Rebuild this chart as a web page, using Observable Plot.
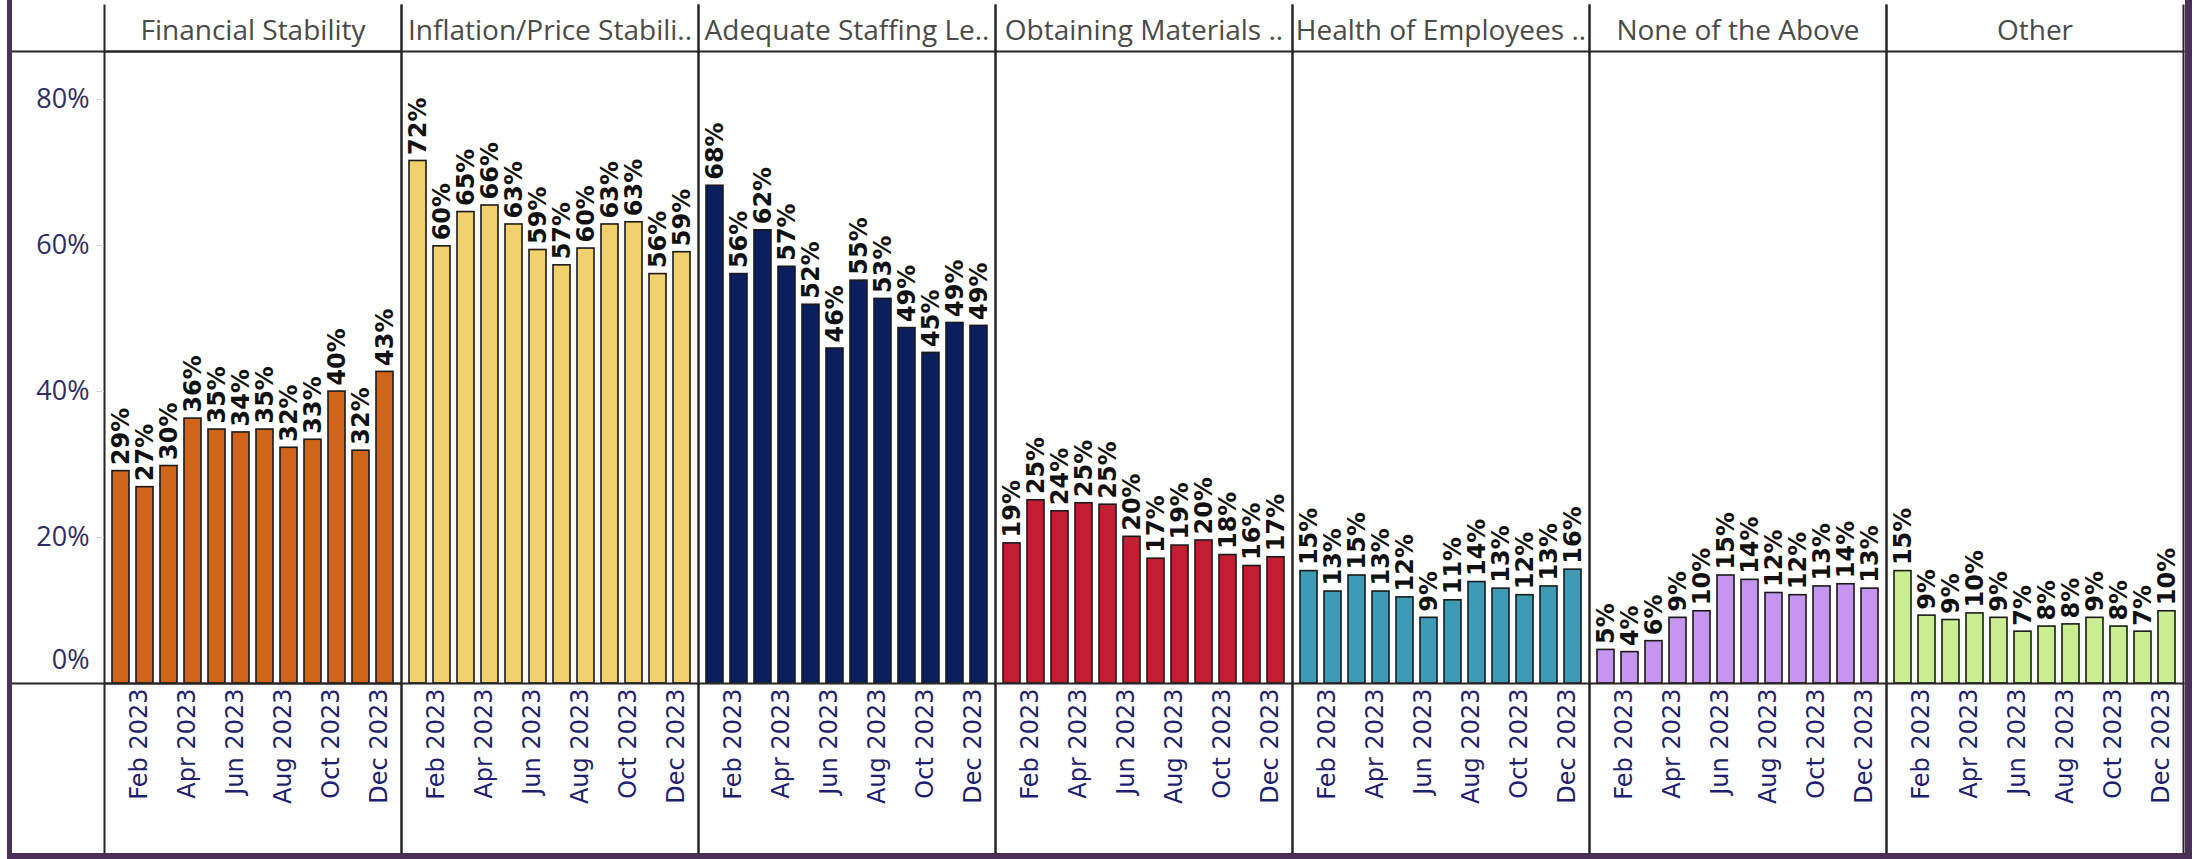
<!DOCTYPE html>
<html>
<head>
<meta charset="utf-8">
<script src="https://cdn.jsdelivr.net/npm/d3@7"></script>
<script src="https://cdn.jsdelivr.net/npm/@observablehq/plot@0.6"></script>
<style>
html,body{margin:0;padding:0;background:#fff;}
#wrap{position:absolute;left:7px;top:0;width:2173px;height:853px;border-left:5px solid #4a2f57;border-right:7px solid #4a2f57;border-bottom:6px solid #4a2f57;background:#fff;}
#wrap svg{display:block;}
</style>
</head>
<body>
<div id="wrap"></div>
<script>
const categories = [
  "Financial Stability",
  "Inflation/Price Stabili..",
  "Adequate Staffing Le..",
  "Obtaining Materials ..",
  "Health of Employees ..",
  "None of the Above",
  "Other"
];
const months = ["Jan 2023","Feb 2023","Mar 2023","Apr 2023","May 2023","Jun 2023",
                "Jul 2023","Aug 2023","Sep 2023","Oct 2023","Nov 2023","Dec 2023"];
const monthTicks = ["Feb 2023","Apr 2023","Jun 2023","Aug 2023","Oct 2023","Dec 2023"];
const yTicks = [20, 40, 60, 80];
const yMax = 86.6;

const financialStability = [29.1, 26.9, 29.8, 36.3, 34.8, 34.4, 34.8, 32.3, 33.4, 40.0, 31.9, 42.7];
const inflationPrice     = [71.6, 59.9, 64.6, 65.5, 62.9, 59.4, 57.3, 59.6, 62.9, 63.2, 56.1, 59.1];
const adequateStaffing   = [68.2, 56.1, 62.1, 57.1, 51.9, 45.9, 55.2, 52.7, 48.7, 45.3, 49.4, 49.0];
const obtainingMaterials = [19.2, 25.1, 23.6, 24.7, 24.5, 20.1, 17.1, 18.9, 19.6, 17.6, 16.1, 17.3];
const healthEmployees    = [15.4, 12.6, 14.8, 12.6, 11.8,  9.0, 11.4, 13.9, 13.0, 12.1, 13.3, 15.6];
const noneOfTheAbove     = [ 4.6,  4.3,  5.8,  9.0,  9.9, 14.8, 14.2, 12.4, 12.1, 13.3, 13.6, 13.0];
const other              = [15.4,  9.3,  8.7,  9.6,  9.0,  7.1,  7.8,  8.1,  9.0,  7.8,  7.1,  9.9];

const seriesValues = [financialStability, inflationPrice, adequateStaffing, obtainingMaterials,
                      healthEmployees, noneOfTheAbove, other];
const colors = ["#D0651A", "#F2D06B", "#0B1F5E", "#C41E33", "#3E9BB3", "#C596EF", "#C9EE93"];

const rows = [];
categories.forEach((c, i) => seriesValues[i].forEach((v, j) => rows.push({category: c, month: months[j], value: v})));
const edgeRows = [{fx: categories[0], y: 0}, {fx: categories[0], y: yMax}];

const lineColor = "#262626";
const chart = Plot.plot({
  width: 2173,
  height: 853,
  marginLeft: 92,
  marginRight: 2,
  marginTop: 51,
  marginBottom: 170,
  style: {background: "transparent", fontFamily: "DejaVu Sans", overflow: "visible"},
  fx: {domain: categories, padding: 0, label: null},
  x: {domain: months, paddingInner: 0.28, paddingOuter: 0.1, label: null},
  y: {domain: [0, yMax], label: null},
  color: {domain: categories, range: colors},
  marks: [
    Plot.barY(rows, {fx: "category", x: "month", y: "value", fill: "category", stroke: "#1a1a1a", strokeWidth: 1.6}),
    Plot.text(rows, {
      fx: "category", x: "month", y: "value",
      text: d => Math.round(d.value) + "%",
      rotate: -90, textAnchor: "start", lineAnchor: "middle", dy: -6,
      fontSize: 24, fontWeight: "bold", fontFamily: "DejaVu Sans", fill: "#111"
    }),
    Plot.frame({anchor: "left", stroke: lineColor, strokeWidth: 2, insetTop: -46, insetBottom: -169}),
    Plot.frame({anchor: "right", stroke: lineColor, strokeWidth: 2, insetTop: -46, insetBottom: -169}),
    Plot.frame({anchor: "top", stroke: lineColor, strokeWidth: 2}),
    Plot.frame({anchor: "bottom", stroke: lineColor, strokeWidth: 2}),
    Plot.ruleY(edgeRows, {fx: "fx", y: "y", insetLeft: -92, stroke: lineColor, strokeWidth: 2}),
    Plot.axisY({ticks: yTicks, tickSize: 8, tickPadding: 7, stroke: "#d4d4d4", fill: "#2f2c66",
      tickFormat: d => d + "%", fontSize: 27, fontFamily: "Open Sans", label: null}),
    Plot.axisY({ticks: [0], tickSize: 0, tickPadding: 15, dy: -23, fill: "#2f2c66",
      tickFormat: d => d + "%", fontSize: 27, fontFamily: "Open Sans", label: null}),
    Plot.axisX({ticks: monthTicks, tickSize: 0, tickPadding: 5, rotate: -90, textAnchor: "end",
      lineAnchor: "middle", dx: -6, fontSize: 24, fontFamily: "DejaVu Sans", fill: "#1f1f70", label: null}),
    Plot.axisFx({anchor: "top", tickSize: 0, tickPadding: 12, fontSize: 28, fontFamily: "Open Sans",
      fill: "#4a4a4a", label: null})
  ]
});
document.getElementById("wrap").appendChild(chart);
</script>
</body>
</html>
